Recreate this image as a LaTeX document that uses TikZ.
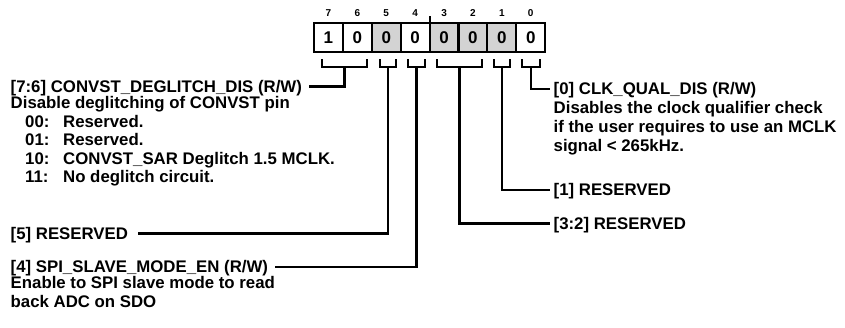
\documentclass[tikz,border=0pt]{standalone}
\usepackage{fontspec}
\setmainfont{Liberation Sans}
\usepackage{tikz}
\usetikzlibrary{positioning,calc}
\definecolor{cellgray}{HTML}{D3D3D3}
\tikzset{
  bitcell/.style={draw, line width=2.1pt, minimum width=28.9pt, minimum height=29pt, inner sep=0pt, outer sep=0pt, font=\bfseries\fontsize{17}{17}\selectfont},
  bitnum/.style={inner sep=0pt, font=\bfseries\fontsize{10}{10}\selectfont},
  hat/.style={line width=2.1pt},
  leader/.style={line width=2.1pt},
  lbl/.style={inner sep=0pt, text height=12pt, text depth=0.5pt, font=\bfseries\fontsize{16.8}{18.5}\selectfont},
  desc/.style={inner sep=0pt, align=left, font=\bfseries\fontsize{16.8}{18.5}\selectfont},
  descr/.style={desc, font=\bfseries\fontsize{16.8}{19.2}\selectfont}
}
\begin{document}
\begin{tikzpicture}[x=1pt, y=-1pt]
  \useasboundingbox (0,0) rectangle (845,327);
  \node[bitcell] (b7) at (328.45,37.5) {1};
  \node[bitcell, right=0pt of b7] (b6) {0};
  \node[bitcell, fill=cellgray, right=0pt of b6] (b5) {0};
  \node[bitcell, right=0pt of b5] (b4) {0};
  \node[bitcell, fill=cellgray, right=0pt of b4] (b3) {0};
  \node[bitcell, fill=cellgray, right=0pt of b3] (b2) {0};
  \node[bitcell, fill=cellgray, right=0pt of b2] (b1) {0};
  \node[bitcell, right=0pt of b1] (b0) {0};
  \node[bitnum, above=6pt of b7] (n7) {7};
  \node[bitnum, above=6pt of b6] (n6) {6};
  \node[bitnum, above=6pt of b5] (n5) {5};
  \node[bitnum, above=6pt of b4] (n4) {4};
  \node[bitnum, above=6pt of b3] (n3) {3};
  \node[bitnum, above=6pt of b2] (n2) {2};
  \node[bitnum, above=6pt of b1] (n1) {1};
  \node[bitnum, above=6pt of b0] (n0) {0};
  \draw[hat] (b4.north east) -- ++(0,-7);

  \draw[hat] (322,59) |- (367,67) -- (367,59);
  \draw[hat] (380,59) |- (396,67) -- (396,59);
  \draw[hat] (408,59) |- (425,67) -- (425,59);
  \draw[hat] (437,59) |- (482,67) -- (482,59);
  \draw[hat] (494,59) |- (510,67) -- (510,59);
  \draw[hat] (522,59) |- (540,67) -- (540,59);
  \coordinate (k76) at (344.5,67);
  \coordinate (k5) at (388,67);
  \coordinate (k4) at (416.5,67);
  \coordinate (k32) at (459.5,67);
  \coordinate (k1) at (502,67);
  \coordinate (k0) at (531,67);

  \node[lbl, anchor=west] (l76) at (10.5,86.5) {[7:6] CONVST\_DEGLITCH\_DIS (R/W)};
  \node[desc, below=3.5pt of l76.south west, anchor=north west] (d76) {Disable deglitching of CONVST pin\\
    \hspace*{14.5pt}\makebox[38pt][l]{00:}Reserved.\\
    \hspace*{14.5pt}\makebox[38pt][l]{01:}Reserved.\\
    \hspace*{14.5pt}\makebox[38pt][l]{10:}CONVST\_SAR Deglitch 1.5 MCLK.\\
    \hspace*{14.5pt}\makebox[38pt][l]{11:}No deglitch circuit.};
  \node[lbl, anchor=west] (l5) at (10.5,233.5) {[5] RESERVED};
  \node[lbl, anchor=west] (l4) at (10.5,267) {[4] SPI\_SLAVE\_MODE\_EN (R/W)};
  \node[desc, below=2.9pt of l4.south west, anchor=north west] (d4) {Enable to SPI slave mode to read\\back ADC on SDO};

  \node[lbl, anchor=west] (r0) at (553.5,89) {[0] CLK\_QUAL\_DIS (R/W)};
  \node[descr, below=5.5pt of r0.south west, anchor=north west] (d0) {Disables the clock qualifier check\\if the user requires to use an MCLK\\signal < 265kHz.};
  \node[lbl, anchor=west] (r1) at (553.5,190) {[1] RESERVED};
  \node[lbl, anchor=west] (r32) at (553.5,223.5) {[3:2] RESERVED};

  \draw[leader, shorten >=7pt] (k76) |- (l76);
  \draw[leader, shorten >=10pt] (k5) |- (l5);
  \draw[leader, shorten >=7pt] (k4) |- (l4);
  \draw[leader, shorten >=4pt] (k0) |- (r0);
  \draw[leader, shorten >=4pt] (k1) |- (r1);
  \draw[leader, shorten >=4pt] (k32) |- (r32);
\end{tikzpicture}
\end{document}
